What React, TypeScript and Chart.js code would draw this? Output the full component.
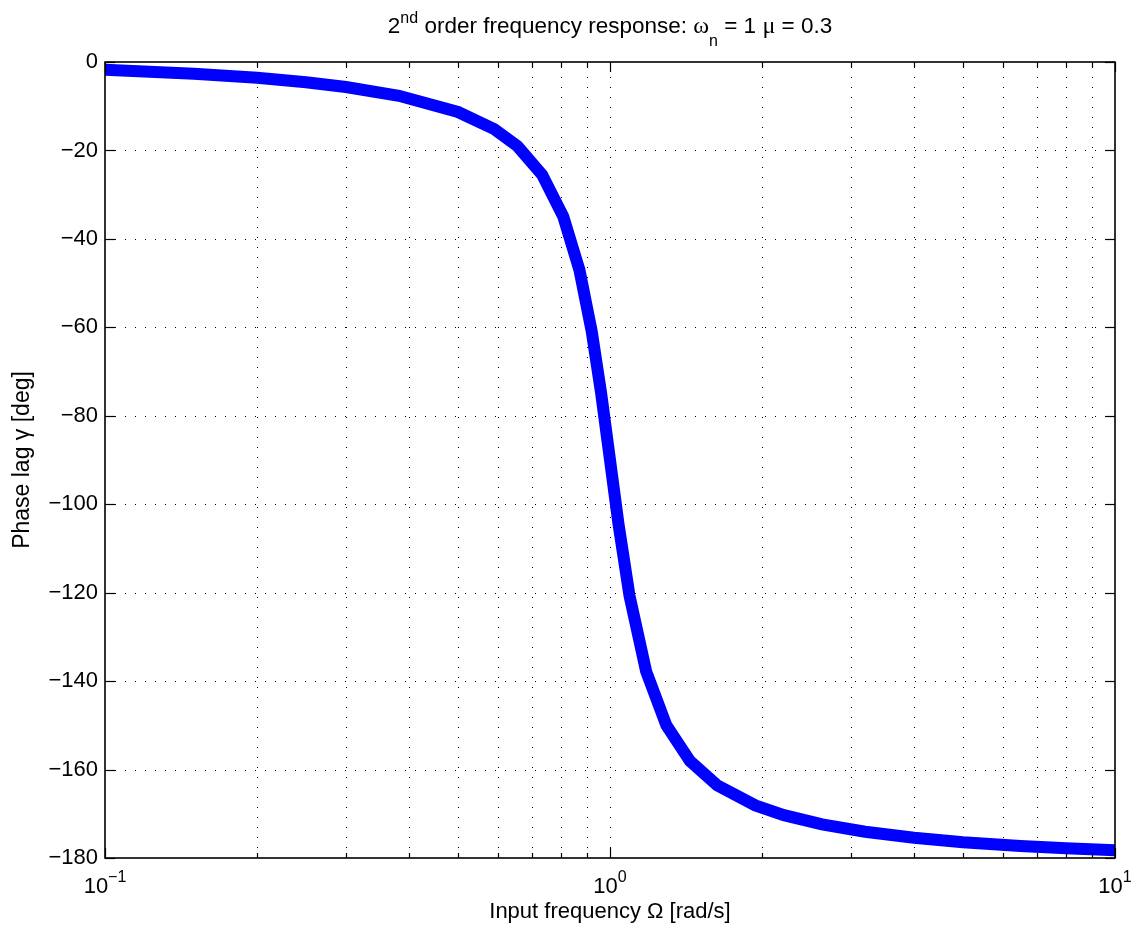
import React, { useEffect, useRef } from "react";
import { Chart, registerables } from "chart.js";

Chart.register(...registerables);

// Phase lag of a 2nd order system (ωn = 1, μ = 0.3) sampled along the frequency axis
const FREQUENCY = [
  0.1, 0.15, 0.2, 0.25, 0.3, 0.382, 0.5, 0.59, 0.656, 0.734, 0.808, 0.87, 0.92, 0.96, 1.0,
  1.04, 1.093, 1.179, 1.293, 1.44, 1.63, 1.94, 2.21, 2.63, 3.2, 4.0, 5.0, 6.5, 8.0, 10,
];
const PHASE_LAG = [
  -1.74, -2.64, -3.58, -4.57, -5.65, -7.64, -11.31, -15.19, -19.06, -25.52, -34.93, -47.03,
  -60.9, -74.77, -90.0, -104.66, -120.69, -137.8, -150.0, -158.08, -163.56, -168.11, -170.31,
  -172.41, -174.07, -175.43, -176.42, -177.29, -177.82, -178.26,
];

// Axis ticks
const X_DECADES = [0.1, 1, 10];
const X_DECADE_BASE = "10";
const X_DECADE_EXPONENTS = ["\u22121", "0", "1"];
const X_MINOR_TICKS = [0.2, 0.3, 0.4, 0.5, 0.6, 0.7, 0.8, 0.9, 2, 3, 4, 5, 6, 7, 8, 9];
const Y_MIN = -180;
const Y_MAX = 0;
const Y_STEP = 20;

const SANS = '"Liberation Sans", Arial, sans-serif';
const SERIF = '"Liberation Serif", "Times New Roman", serif';

const frameAndTextPlugin = {
  id: "frameAndText",
  beforeDatasetsDraw(chart: any) {
    const { ctx, chartArea } = chart;
    const { left, right, top, bottom } = chartArea;
    const xs = chart.scales.x;
    const ys = chart.scales.y;
    ctx.save();
    ctx.strokeStyle = "#000";
    ctx.lineWidth = 1;
    ctx.setLineDash([1, 9]);
    // dotted grid
    const xGrid = [...X_MINOR_TICKS, 1];
    xGrid.forEach((v) => {
      const px = Math.round(xs.getPixelForValue(v)) + 0.5;
      ctx.beginPath();
      ctx.moveTo(px, bottom);
      ctx.lineTo(px, top);
      ctx.stroke();
    });
    ys.ticks.forEach((t: any) => {
      if (t.value <= Y_MIN || t.value >= Y_MAX) return;
      const py = Math.round(ys.getPixelForValue(t.value)) + 0.5;
      ctx.beginPath();
      ctx.moveTo(left, py);
      ctx.lineTo(right, py);
      ctx.stroke();
    });
    ctx.restore();
  },
  afterDatasetsDraw(chart: any) {
    const { ctx, chartArea } = chart;
    const { left, right, top, bottom } = chartArea;
    const xs = chart.scales.x;
    const ys = chart.scales.y;
    ctx.save();
    ctx.strokeStyle = "#000";
    ctx.setLineDash([]);

    // inward tick marks on all four sides
    ctx.lineWidth = 1.2;
    const tick = (x1: number, y1: number, x2: number, y2: number) => {
      ctx.beginPath();
      ctx.moveTo(x1, y1);
      ctx.lineTo(x2, y2);
      ctx.stroke();
    };
    ys.ticks.forEach((t: any) => {
      const py = Math.round(ys.getPixelForValue(t.value)) + 0.5;
      tick(left, py, left + 10, py);
      tick(right, py, right - 10, py);
    });
    X_DECADES.forEach((v) => {
      const px = Math.round(xs.getPixelForValue(v)) + 0.5;
      tick(px, bottom, px, bottom - 10);
      tick(px, top, px, top + 10);
    });
    X_MINOR_TICKS.forEach((v) => {
      const px = Math.round(xs.getPixelForValue(v)) + 0.5;
      tick(px, bottom, px, bottom - 5);
      tick(px, top, px, top + 5);
    });

    // box
    ctx.lineWidth = 1.6;
    ctx.strokeRect(left, top, right - left, bottom - top);

    // decade labels with superscript exponents
    ctx.fillStyle = "#000";
    ctx.textBaseline = "alphabetic";
    ctx.textAlign = "left";
    const baseFont = `22px ${SANS}`;
    const expFont = `16px ${SANS}`;
    X_DECADES.forEach((v, i) => {
      const px = xs.getPixelForValue(v);
      ctx.font = baseFont;
      const wb = ctx.measureText(X_DECADE_BASE).width;
      ctx.font = expFont;
      const we = ctx.measureText(X_DECADE_EXPONENTS[i]).width;
      const x0 = px - (wb + we) / 2;
      ctx.font = baseFont;
      ctx.fillText(X_DECADE_BASE, x0, bottom + 35);
      ctx.font = expFont;
      ctx.fillText(X_DECADE_EXPONENTS[i], x0 + wb, bottom + 24);
    });

    // title with super/subscripts
    const main = `22.5px ${SANS}`;
    const small = `16px ${SANS}`;
    const greek = `24px ${SERIF}`;
    const pieces = [
      { t: "2", f: main, dy: 0 },
      { t: "nd", f: small, dy: -10 },
      { t: " order frequency response: ", f: main, dy: 0 },
      { t: "\u03C9", f: greek, dy: 0 },
      { t: "n", f: small, dy: 13 },
      { t: " = 1 ", f: main, dy: 0 },
      { t: "\u03BC", f: greek, dy: 0 },
      { t: " = 0.3", f: main, dy: 0 },
    ];
    let total = 0;
    const widths = pieces.map((p) => {
      ctx.font = p.f;
      const w = ctx.measureText(p.t).width;
      total += w;
      return w;
    });
    let x = (left + right) / 2 - total / 2;
    const baseY = 33;
    pieces.forEach((p, i) => {
      ctx.font = p.f;
      ctx.fillText(p.t, x, baseY + p.dy);
      x += widths[i];
    });
    ctx.restore();
  },
};

export default function App() {
  const canvasRef = useRef<HTMLCanvasElement | null>(null);

  useEffect(() => {
    const canvas = canvasRef.current;
    if (!canvas) return;
    Chart.defaults.color = "#000";
    Chart.defaults.font.family = SANS;

    const chart = new Chart(canvas, {
      type: "line",
      data: {
        datasets: [
          {
            data: FREQUENCY.map((f, i) => ({ x: f, y: PHASE_LAG[i] })),
            borderColor: "#0000FF",
            backgroundColor: "#0000FF",
            borderWidth: 12,
            pointRadius: 0,
            tension: 0,
            fill: false,
          },
        ],
      },
      options: {
        responsive: false,
        animation: false,
        events: [],
        layout: { padding: { top: 62, right: 20, left: 0, bottom: 0 } },
        plugins: {
          legend: { display: false },
          title: { display: false },
          tooltip: { enabled: false },
        },
        scales: {
          x: {
            type: "logarithmic",
            min: 0.1,
            max: 10,
            grid: { display: false, drawTicks: false },
            border: { display: false },
            ticks: { display: false },
            title: {
              display: true,
              text: "Input frequency \u03A9 [rad/s]",
              font: { size: 22, family: SANS },
              padding: { top: 0, bottom: 1 },
            },
            afterFit: (scale: any) => {
              scale.height = 68;
            },
          },
          y: {
            type: "linear",
            min: Y_MIN,
            max: Y_MAX,
            grid: { display: false, drawTicks: false },
            border: { display: false },
            ticks: {
              stepSize: Y_STEP,
              padding: 7,
              font: { size: 22, family: SANS },
              callback: (v: any) => (v < 0 ? "\u2212" + Math.abs(v) : String(v)),
            },
            title: {
              display: true,
              text: "Phase lag \u03B3 [deg]",
              font: { size: 23, family: SANS },
              padding: { top: 9, bottom: 0 },
            },
            afterFit: (scale: any) => {
              scale.width = 105;
            },
          },
        },
      },
      plugins: [frameAndTextPlugin],
    });
    return () => chart.destroy();
  }, []);

  return (
    <div style={{ position: "absolute", left: 0, top: 0, width: 1135, height: 926, background: "#fff" }}>
      <canvas ref={canvasRef} width={1135} height={926} style={{ display: "block" }} />
    </div>
  );
}
